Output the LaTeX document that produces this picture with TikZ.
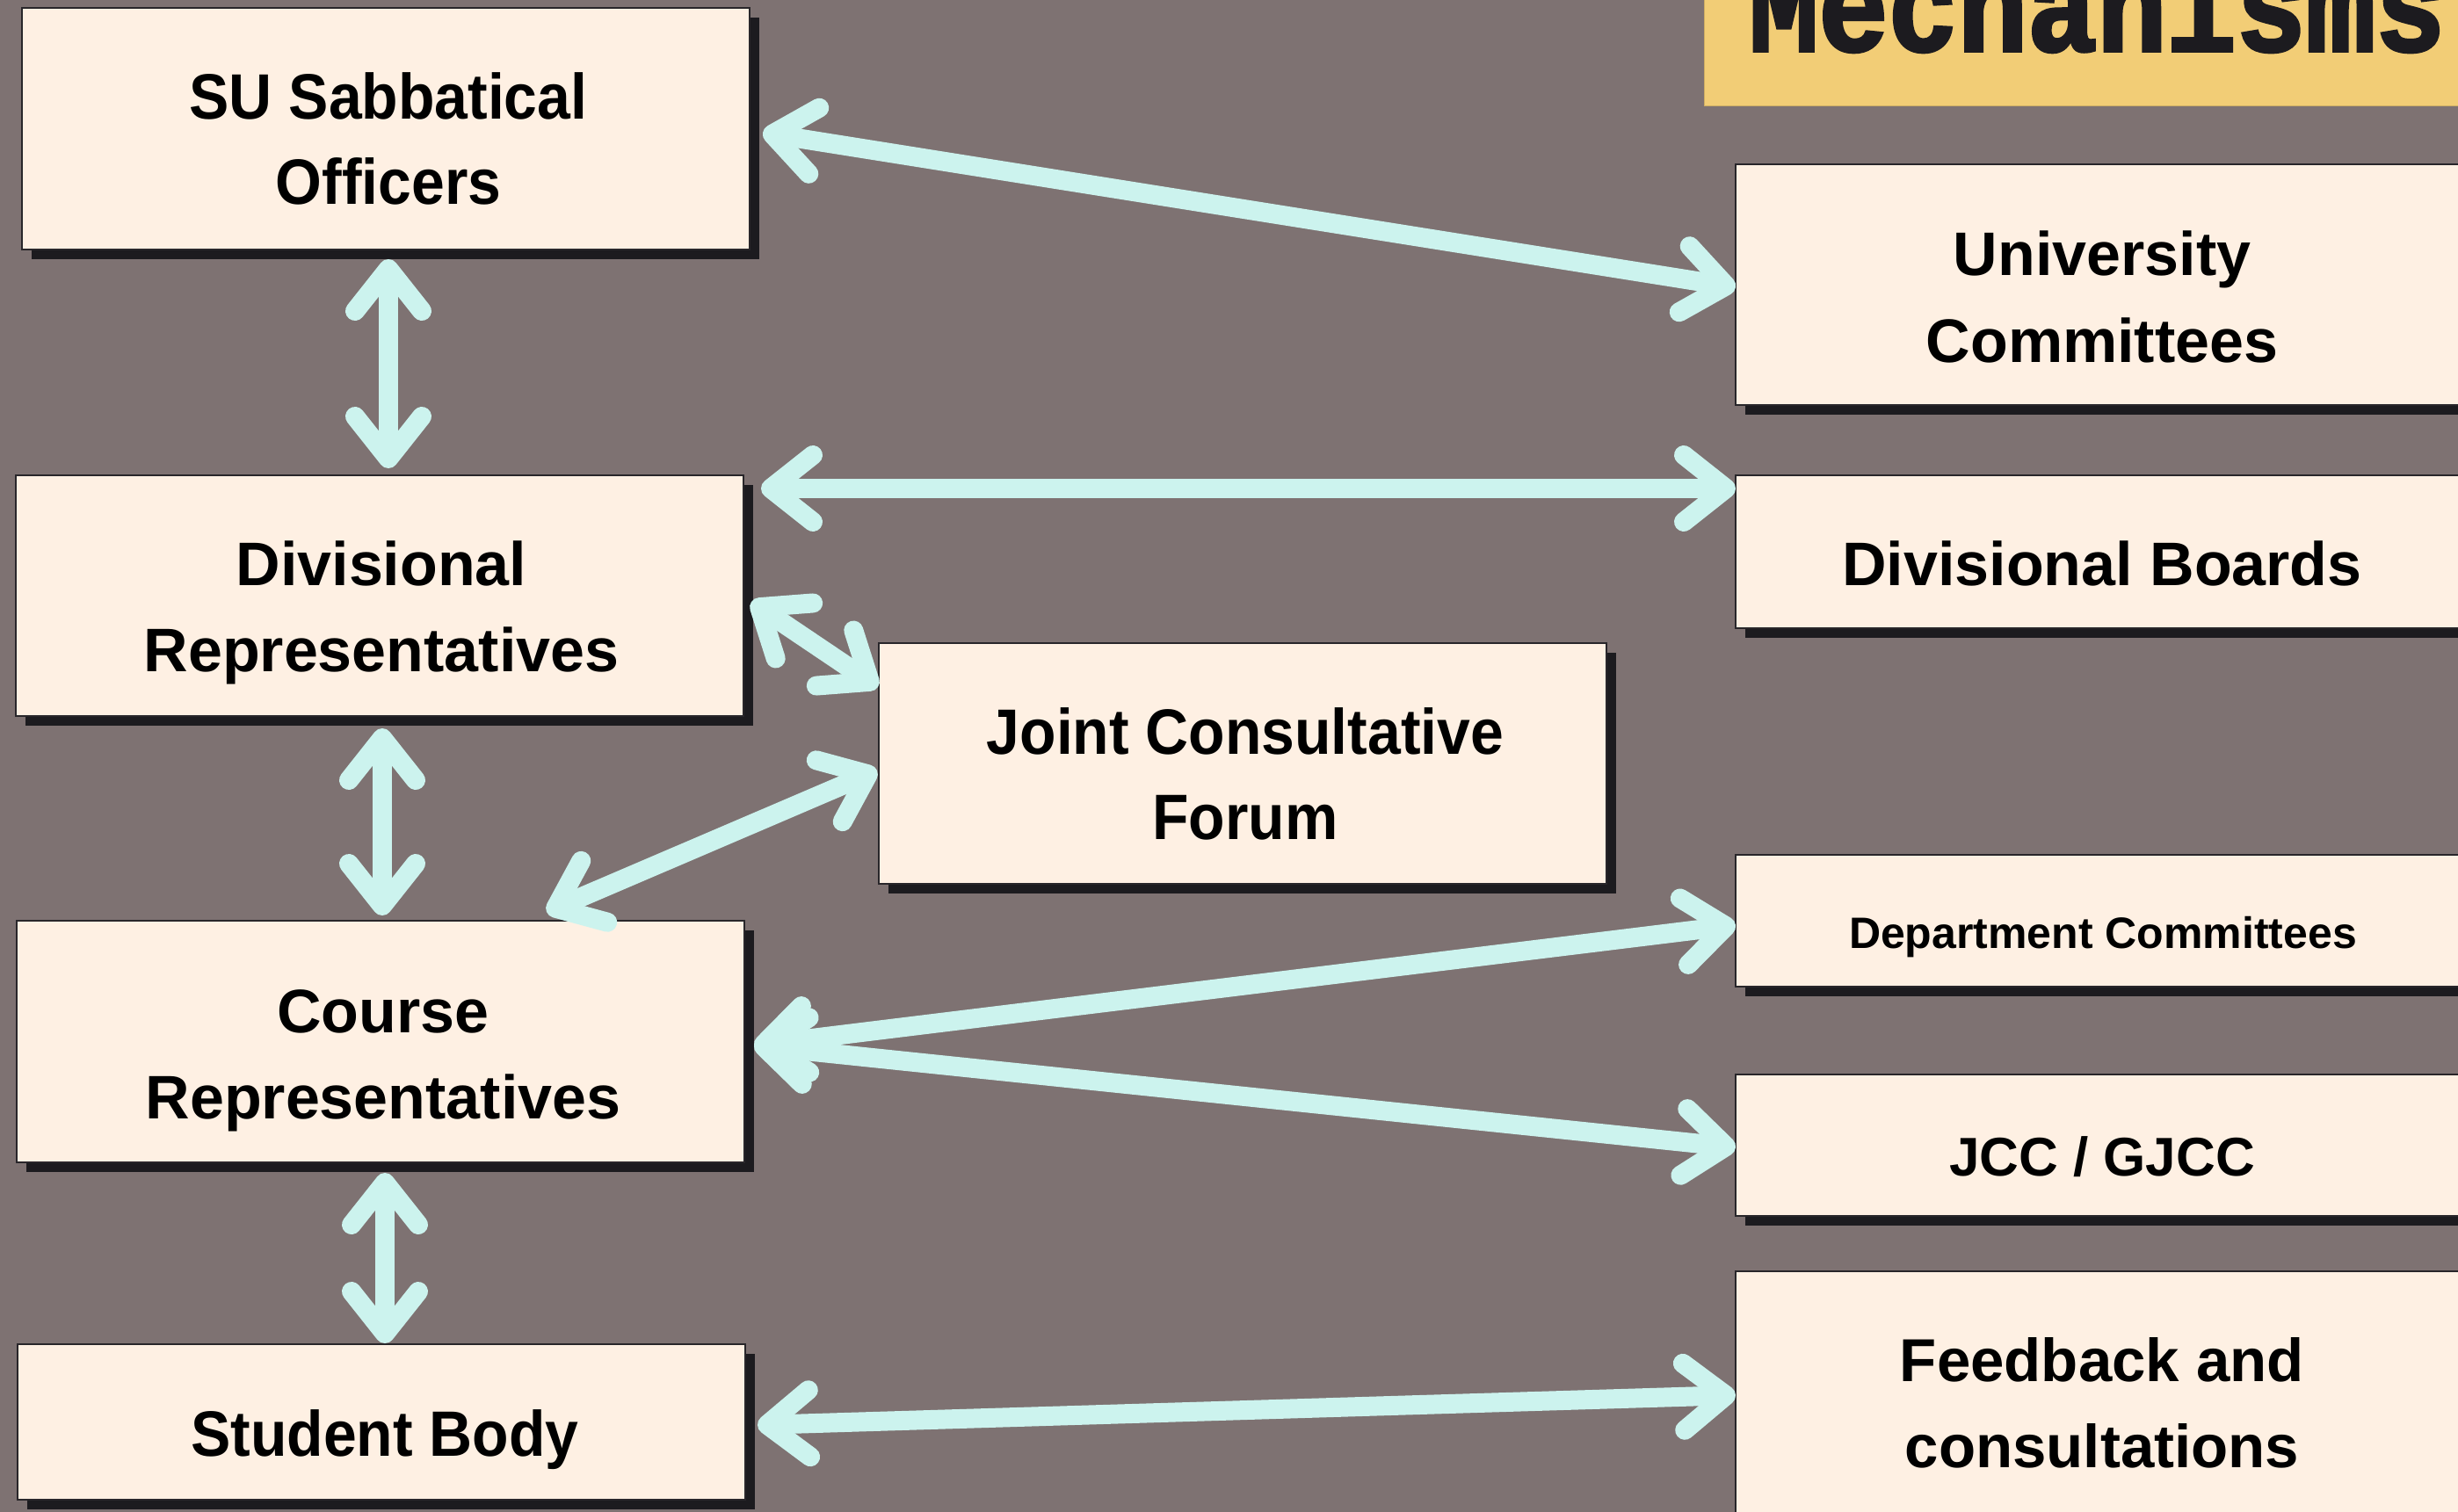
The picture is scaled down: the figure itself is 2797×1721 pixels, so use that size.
\documentclass[tikz,border=0pt]{standalone}
\usepackage{fontspec}
\setmainfont{Liberation Sans}
\newfontfamily\condfont{Liberation Sans}[FakeStretch=0.93]
\newfontfamily\titlefont{Liberation Mono}[FakeStretch=0.88,FakeBold=2.5]
\usetikzlibrary{arrows.meta,shadows,calc}
\definecolor{bgc}{RGB}{126,114,114}
\definecolor{boxfill}{RGB}{254,240,227}
\definecolor{boxline}{RGB}{40,38,42}
\definecolor{shadowc}{RGB}{28,27,31}
\definecolor{arrowc}{RGB}{204,243,238}
\definecolor{titlec}{RGB}{242,205,118}
\begin{document}
\begin{tikzpicture}[x=1pt,y=-1pt,
  box/.style={rectangle, draw=boxline, line width=2.5pt, fill=boxfill, inner sep=0pt, outer sep=0pt,
    general shadow={fill=shadowc, shadow xshift=11pt, shadow yshift=-11pt}},
  lbl/.style={anchor=base, inner sep=0pt, text=black, font=\fontsize{70}{70}\selectfont\bfseries},
  clbl/.style={anchor=base, inner sep=0pt, text=black, font=\fontsize{73}{73}\selectfont\condfont\bfseries},
  conn/.style={draw=arrowc, line width=22pt, line cap=round,
    >={Straight Barb[length=48pt,width=76pt,round]}, <->},
]
\clip (0,0) rectangle (2797,1721);
\fill[bgc] (0,0) rectangle (2797,1721);

% title
\node[fill=titlec, draw=titlec!85!black, line width=1pt, inner sep=0pt, outer sep=0pt,
  minimum width=901pt, minimum height=170pt] (titlebox) at (2389.5,35) {};
\node[anchor=base west, inner sep=0pt, text=shadowc,
  font=\fontsize{150}{150}\selectfont\titlefont\bfseries] (title) at (1990,58) {Mechanisms};

% boxes
\node[box, minimum width=828pt, minimum height=275pt] (su)  at (439,146.5) {};
\node[box, minimum width=835pt, minimum height=274pt] (uc)  at (2392.5,324) {};
\node[box, minimum width=828pt, minimum height=274pt] (dr)  at (432,678) {};
\node[box, minimum width=835pt, minimum height=174pt] (db)  at (2392.5,628) {};
\node[box, minimum width=828pt, minimum height=274pt] (jcf) at (1414,869) {};
\node[box, minimum width=828pt, minimum height=275pt] (cr)  at (433,1185.5) {};
\node[box, minimum width=835pt, minimum height=150pt] (dc)  at (2392.5,1048) {};
\node[box, minimum width=835pt, minimum height=161pt] (jcc) at (2392.5,1303.5) {};
\node[box, minimum width=828pt, minimum height=177pt] (sb)  at (434,1618.5) {};
\node[box, minimum width=835pt, minimum height=293pt] (fb)  at (2392.5,1593.5) {};

% labels
\node[clbl] (suA) at (442,135) {SU Sabbatical};
\node[clbl] (suB) at (442,232) {Officers};
\node[lbl] (ucA) at (2392,313) {University};
\node[lbl] (ucB) at (2392,412) {Committees};
\node[lbl] (drA) at (434,666) {Divisional};
\node[lbl] (drB) at (434,764) {Representatives};
\node[lbl] (dbA) at (2392,666) {Divisional Boards};
\node[clbl] (jcfA) at (1417,858) {Joint Consultative};
\node[clbl] (jcfB) at (1417,955) {Forum};
\node[lbl] (crA) at (436,1175) {Course};
\node[lbl] (crB) at (436,1273) {Representatives};
\node[lbl, font=\fontsize{50}{50}\selectfont\bfseries] (dcA) at (2393,1079) {Department Committees};
\node[lbl, font=\fontsize{62}{62}\selectfont\bfseries] (jccA) at (2392,1338) {JCC / GJCC};
\node[lbl, font=\fontsize{69}{69}\selectfont\bfseries] (fbA) at (2392,1572) {Feedback and};
\node[lbl, font=\fontsize{69}{69}\selectfont\bfseries] (fbB) at (2392,1670) {consultations};
\node[clbl] (sbA) at (438,1657) {Student Body};

% connectors
\draw[conn] ([shift={(15,4.5)}]su.east) -- ([shift={(0,3)}]uc.west);
\draw[conn] ([shift={(3,11)}]su.south) -- ([shift={(10,-8)}]dr.north);
\draw[conn] ([shift={(20,15)}]dr.north east) -- ([shift={(0,15)}]db.north west);
\draw[conn] ([shift={(9,7)}]dr.east) -- ([shift={(-1,50)}]jcf.north west);
\draw[conn] ([shift={(3,14)}]dr.south) -- ([shift={(2,-6)}]cr.north);
\draw[conn] ([shift={(189,-10)}]cr.north) -- ([shift={(-2,8)}]jcf.west);
\draw[conn] ([shift={(11,4.5)}]cr.east) -- ([shift={(0,5)}]dc.west);
\draw[conn] ([shift={(11,4.5)}]cr.east) -- ([shift={(0,2.5)}]jcc.west);
\draw[conn] ([shift={(5,12)}]cr.south) -- ([shift={(4,-1)}]sb.north);
\draw[conn] ([shift={(14,3.5)}]sb.east) -- ([shift={(0,-5.5)}]fb.west);
\end{tikzpicture}
\end{document}
